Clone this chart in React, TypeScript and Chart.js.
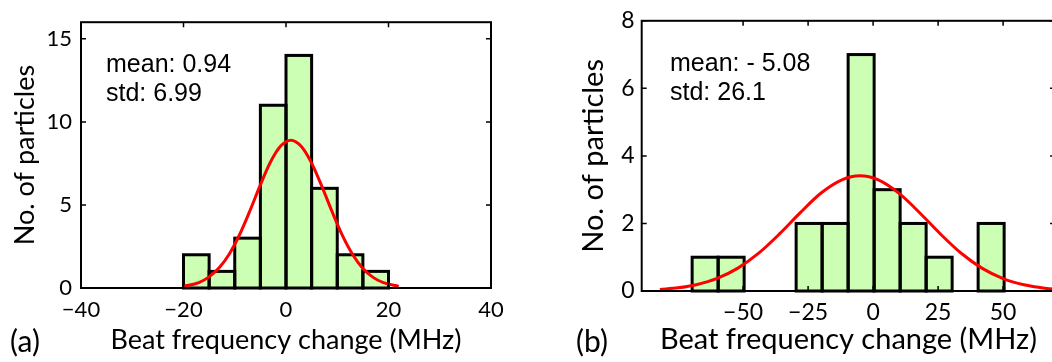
import React, { useEffect, useRef } from 'react';
import { Chart, registerables } from 'chart.js';
Chart.register(...registerables);

// ---------- Panel (a) data ----------
const binCentersA = [-17.5, -12.5, -7.5, -2.5, 2.5, 7.5, 12.5, 17.5];
const countsA = [2, 1, 3, 11, 14, 6, 2, 1];
const fitXA = [-20, -17, -15, -13, -11, -9, -7, -5, -3, -1, 0.94, 3, 5, 7, 9, 11, 13, 15, 17, 19, 22];
const fitYA = [0.1, 0.33, 0.67, 1.23, 2.08, 3.25, 4.68, 6.21, 7.6, 8.56, 8.9, 8.52, 7.52, 6.12, 4.59, 3.17, 2.02, 1.18, 0.64, 0.32, 0.1];
const xTicksA = [-40, -20, 0, 20, 40];
const yTicksA = [0, 5, 10, 15];
const statsA = ['mean: 0.94', 'std: 6.99'];

// ---------- Panel (b) data ----------
const binCentersB = [-64.6, -54.6, -44.6, -34.6, -24.6, -14.6, -4.6, 5.4, 15.4, 25.4, 35.4, 45.4];
const countsB = [1, 1, 0, 0, 2, 2, 7, 3, 2, 1, 0, 2];
const fitXB = [-82, -75, -68, -60, -52, -44, -36, -28, -20, -12, -5.08, 2, 10, 18, 26, 34, 42, 50, 58, 66, 72];
const fitYB = [0.044, 0.094, 0.187, 0.373, 0.678, 1.12, 1.69, 2.32, 2.9, 3.29, 3.41, 3.29, 2.89, 2.31, 1.68, 1.11, 0.67, 0.368, 0.184, 0.084, 0.044];
const xTicksB = [-50, -25, 0, 25, 50];
const yTicksB = [0, 2, 4, 6, 8];
const statsB = ['mean: - 5.08', 'std: 26.1'];

const xTitle = 'Beat frequency change (MHz)';
const yTitle = 'No. of particles';

const BAR_FILL = '#ccffb3';
const FIT_RED = '#ff0000';
const AXIS_FONT = 'Lato, "Open Sans", sans-serif';
const NOTE_FONT = '"Liberation Sans", Arial, sans-serif';

const fmt = (v: number) => (v < 0 ? '\u2212' + Math.abs(v) : String(v));

const framePlugin = {
  id: 'frame',
  afterDatasetDraw(chart: any, args: any) {
    const meta = args.meta;
    if (meta.type !== 'bar') return;
    const ctx = chart.ctx;
    ctx.save();
    ctx.lineWidth = 3;
    ctx.strokeStyle = '#000';
    ctx.lineJoin = 'miter';
    meta.data.forEach((el: any, i: number) => {
      const raw = meta._parsed[i];
      if (!raw || raw.y === 0) return;
      const { x, y, base, width } = el.getProps(['x', 'y', 'base', 'width'], true);
      ctx.strokeRect(x - width / 2, y, width, base - y);
    });
    ctx.restore();
  },
  afterDraw(chart: any, _args: any, opts: any) {
    const ctx = chart.ctx;
    const { left, right, top, bottom } = chart.chartArea;
    const xs = chart.scales.x;
    const ys = chart.scales.y;
    ctx.save();
    ctx.strokeStyle = '#000';
    ctx.lineWidth = 2;
    ctx.strokeRect(left, top, right - left, bottom - top);
    const tl = 5;
    ctx.beginPath();
    xs.ticks.forEach((t: any) => {
      const px = xs.getPixelForValue(t.value);
      ctx.moveTo(px, bottom); ctx.lineTo(px, bottom - tl);
      ctx.moveTo(px, top); ctx.lineTo(px, top + tl);
    });
    ys.ticks.forEach((t: any) => {
      const py = ys.getPixelForValue(t.value);
      ctx.moveTo(left, py); ctx.lineTo(left + tl, py);
      ctx.moveTo(right, py); ctx.lineTo(right - tl, py);
    });
    ctx.lineWidth = 1.5;
    ctx.stroke();

    ctx.fillStyle = '#000';
    ctx.font = `${opts.noteSize}px ${NOTE_FONT}`;
    ctx.textAlign = 'left';
    ctx.textBaseline = 'alphabetic';
    opts.notes.forEach((s: string, i: number) => {
      ctx.fillText(s, opts.noteX, opts.noteY + i * opts.noteGap);
    });

    ctx.font = `${opts.labelSize}px ${AXIS_FONT}`;
    ctx.textAlign = 'center';
    ctx.textBaseline = 'middle';
    ctx.fillText(opts.label, opts.labelX, opts.labelY);
    ctx.restore();
  },
};

type Spec = {
  left: number; w: number;
  centers: number[]; counts: number[]; fitX: number[]; fitY: number[];
  xTicks: number[]; yTicks: number[];
  xMin: number; xMax: number; yMax: number;
  yAxisW: number; xAxisH: number; padTop: number; padRight: number;
  tickSize: number; titleSize: number;
  xTitlePad: number; yTitlePad: number; xTickPad: number; yTickPad: number;
  notes: string[]; noteX: number; noteY: number; noteSize: number;
  label: string; labelX: number; labelY: number;
};

function Panel({ spec }: { spec: Spec }) {
  const ref = useRef<HTMLCanvasElement>(null);
  useEffect(() => {
    const s = spec;
    const chart = new Chart(ref.current as HTMLCanvasElement, {
      type: 'bar',
      data: {
        datasets: [
          {
            type: 'line',
            data: s.fitX.map((x, i) => ({ x, y: s.fitY[i] })),
            borderColor: FIT_RED,
            borderWidth: 3,
            pointRadius: 0,
            cubicInterpolationMode: 'monotone',
            fill: false,
            order: 0,
          } as any,
          {
            type: 'bar',
            data: s.centers.map((x, i) => ({ x, y: s.counts[i] })),
            backgroundColor: BAR_FILL,
            borderWidth: 0,
            barPercentage: 1,
            categoryPercentage: 1,
            order: 1,
          } as any,
        ],
      },
      options: {
        responsive: false,
        animation: false,
        events: [],
        layout: { padding: { top: s.padTop, right: s.padRight, left: 0, bottom: 0 } },
        plugins: {
          legend: { display: false },
          tooltip: { enabled: false },
          frame: {
            notes: s.notes, noteX: s.noteX, noteY: s.noteY, noteGap: 29, noteSize: s.noteSize,
            label: s.label, labelX: s.labelX, labelY: s.labelY, labelSize: 30,
          },
        } as any,
        scales: {
          x: {
            type: 'linear',
            offset: false,
            min: s.xMin,
            max: s.xMax,
            afterBuildTicks: (a: any) => { a.ticks = s.xTicks.map((v) => ({ value: v })); },
            afterFit: (a: any) => { a.height = s.xAxisH; },
            grid: { display: false, drawTicks: false },
            border: { display: false },
            ticks: {
              color: '#000', font: { family: AXIS_FONT, size: s.tickSize }, padding: s.xTickPad,
              maxRotation: 0, autoSkip: false, callback: (v: any) => fmt(Number(v)),
            },
            title: {
              display: true, text: xTitle, color: '#000',
              font: { family: AXIS_FONT, size: s.titleSize }, padding: { top: 0, bottom: s.xTitlePad },
            },
          },
          y: {
            type: 'linear',
            min: 0,
            max: s.yMax,
            afterBuildTicks: (a: any) => { a.ticks = s.yTicks.map((v) => ({ value: v })); },
            afterFit: (a: any) => { a.width = s.yAxisW; },
            grid: { display: false, drawTicks: false },
            border: { display: false },
            ticks: {
              color: '#000', font: { family: AXIS_FONT, size: s.tickSize }, padding: s.yTickPad,
              autoSkip: false, callback: (v: any) => fmt(Number(v)),
            },
            title: {
              display: true, text: yTitle, color: '#000',
              font: { family: AXIS_FONT, size: s.titleSize }, padding: { top: s.yTitlePad, bottom: 0 },
            },
          },
        },
      } as any,
      plugins: [framePlugin as any],
    });
    return () => chart.destroy();
  }, [spec]);
  return (
    <canvas
      ref={ref}
      width={spec.w}
      height={362}
      style={{ position: 'absolute', left: spec.left, top: 0, width: spec.w, height: 362, display: 'block' }}
    />
  );
}

const specA: Spec = {
  left: 0, w: 526,
  centers: binCentersA, counts: countsA, fitX: fitXA, fitY: fitYA,
  xTicks: xTicksA, yTicks: yTicksA,
  xMin: -40, xMax: 40, yMax: 16,
  yAxisW: 81, xAxisH: 74, padTop: 5, padRight: 526 - 491,
  tickSize: 22, titleSize: 27,
  xTitlePad: 6, yTitlePad: 9, xTickPad: 9, yTickPad: 9,
  notes: statsA, noteX: 106, noteY: 72, noteSize: 25,
  label: '(a)', labelX: 25, labelY: 342,
};

const specB: Spec = {
  left: 526, w: 536,
  centers: binCentersB, counts: countsB, fitX: fitXB, fitY: fitYB,
  xTicks: xTicksB, yTicks: yTicksB,
  xMin: -89, xMax: 70, yMax: 8,
  yAxisW: 115.7, xAxisH: 71, padTop: 9, padRight: 536 - 529.1,
  tickSize: 23, titleSize: 29,
  xTitlePad: 5, yTitlePad: 50, xTickPad: 8, yTickPad: 7,
  notes: statsB, noteX: 144, noteY: 71, noteSize: 25,
  label: '(b)', labelX: 66, labelY: 342,
};

export default function App() {
  return (
    <div style={{ position: 'fixed', left: 0, top: 0, width: 1052, height: 362, overflow: 'hidden', background: '#fff' }}>
      <Panel spec={specA} />
      <Panel spec={specB} />
    </div>
  );
}
